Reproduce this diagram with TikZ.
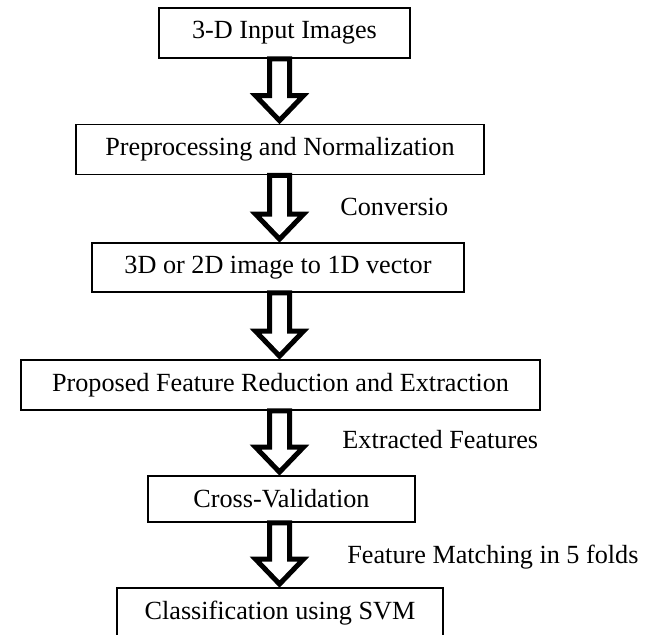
\documentclass[tikz,border=0pt]{standalone}
\usepackage{fontspec}
\setmainfont{Liberation Serif}
\usetikzlibrary{calc}

\tikzset{
  stage/.style={draw=black, line width=0.9pt, minimum height=25pt, inner sep=0pt,
    font=\fontsize{13.1}{15.7}\selectfont},
  note/.style={anchor=west, inner sep=0pt, font=\fontsize{13.1}{15.7}\selectfont},
  blockarr/.style={draw=black, fill=white, line width=2.5pt, line join=miter}
}
% hollow block arrow between two stacked stages
\newcommand{\stagearrow}[2]{%
  \draw[blockarr] let \p1=(#1.south -| axis), \p2=(#2.north -| axis) in
    (\x1-5pt,\y1) -- (\x1-5pt,\y2+14pt) -- (\x1-12pt,\y2+14pt) -- (\x1,\y2+1.5pt)
    -- (\x1+12pt,\y2+14pt) -- (\x1+5pt,\y2+14pt) -- (\x1+5pt,\y1) -- cycle;}

\begin{document}
\begin{tikzpicture}[x=0.5pt,y=-0.5pt]
  \useasboundingbox (0,0) rectangle (647,635);
  \coordinate (axis) at (279.5,0);

  \node[stage, minimum width=125.5pt] (input) at (284.5,33) {3-D Input Images};
  \node[stage, minimum width=204pt] (prep) at (280,149.5) {Preprocessing and Normalization};
  \node[stage, minimum width=186pt, minimum height=24.5pt] (vec) at (278,267.5) {3D or 2D image to 1D vector};
  \node[stage, minimum width=259.5pt] (reduce) at (280.5,385) {Proposed Feature Reduction and Extraction};
  \node[stage, minimum width=133.5pt, minimum height=23pt] (cross) at (281.5,499) {Cross-Validation};
  \node[stage, minimum width=163pt] (svm) at (280,613) {Classification using SVM};

  \stagearrow{input}{prep}
  \stagearrow{prep}{vec}
  \stagearrow{vec}{reduce}
  \stagearrow{reduce}{cross}
  \stagearrow{cross}{svm}

  \node[note] (conv) at (340,207) {Conversio};
  \node[note] (extr) at (342,440) {Extracted Features};
  \node[note] (match) at (347,557) {Feature Matching in 5 folds};
\end{tikzpicture}
\end{document}
